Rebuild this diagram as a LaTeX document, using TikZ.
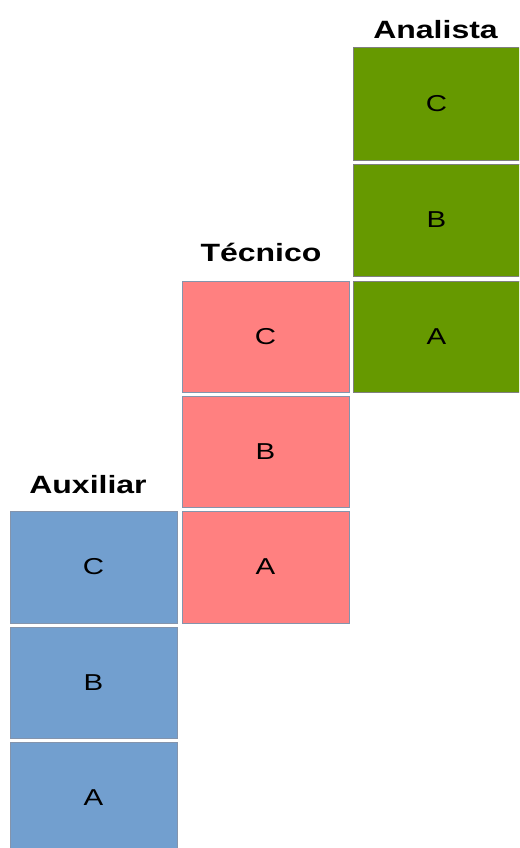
\documentclass[tikz,border=0pt]{standalone}
\usepackage{fontspec}
\setmainfont{Liberation Sans}
\definecolor{auxblue}{HTML}{729FCF}
\definecolor{tecred}{HTML}{FF8080}
\definecolor{anagreen}{HTML}{669900}
\definecolor{edgegray}{HTML}{8494AC}
\tikzset{
  cell/.style={draw=edgegray, line width=1pt},
  celltext/.style={font=\fontsize{23}{23}\selectfont, anchor=center, inner sep=0pt},
  head/.style={font=\fontsize{25}{25}\selectfont\bfseries, anchor=base, inner sep=0pt}
}
\newcommand{\wide}[1]{\scalebox{1.28}[1]{#1}}
\begin{document}
\begin{tikzpicture}[x=1pt,y=-1pt]
\useasboundingbox (0,0) rectangle (519,848);
\begin{scope}
\clip (0,0) rectangle (519,848);
% Auxiliar
\draw[cell, fill=auxblue] (10,511) rectangle (177,623);
\draw[cell, fill=auxblue] (10,627) rectangle (177,738);
\draw[cell, fill=auxblue] (10,742) rectangle (177,854);
% Tecnico
\draw[cell, fill=tecred] (182,281) rectangle (349,392);
\draw[cell, fill=tecred] (182,396) rectangle (349,507);
\draw[cell, fill=tecred] (182,511) rectangle (349,623);
% Analista
\draw[cell, fill=anagreen, draw=gray] (353,48) rectangle (522,160);
\draw[cell, fill=anagreen, draw=gray] (353,164) rectangle (522,276);
\draw[cell, fill=anagreen, draw=gray] (353,281) rectangle (522,392);
\end{scope}
\node[celltext] (auxC) at (93.5,567) {\wide{C}};
\node[celltext] (auxB) at (93.5,682.5) {\wide{B}};
\node[celltext] (auxA) at (93.5,798) {\wide{A}};
\node[celltext] (tecC) at (265.5,336.5) {\wide{C}};
\node[celltext] (tecB) at (265.5,451.5) {\wide{B}};
\node[celltext] (tecA) at (265.5,567) {\wide{A}};
\node[celltext] (anaC) at (436.5,104) {\wide{C}};
\node[celltext] (anaB) at (436.5,220) {\wide{B}};
\node[celltext] (anaA) at (436.5,336.5) {\wide{A}};
\node[head] (auxH) at (88,493) {\wide{Auxiliar}};
\node[head] (tecH) at (261,261) {\wide{Técnico}};
\node[head] (anaH) at (435.5,39) {\wide{Analista}};
\end{tikzpicture}
\end{document}
